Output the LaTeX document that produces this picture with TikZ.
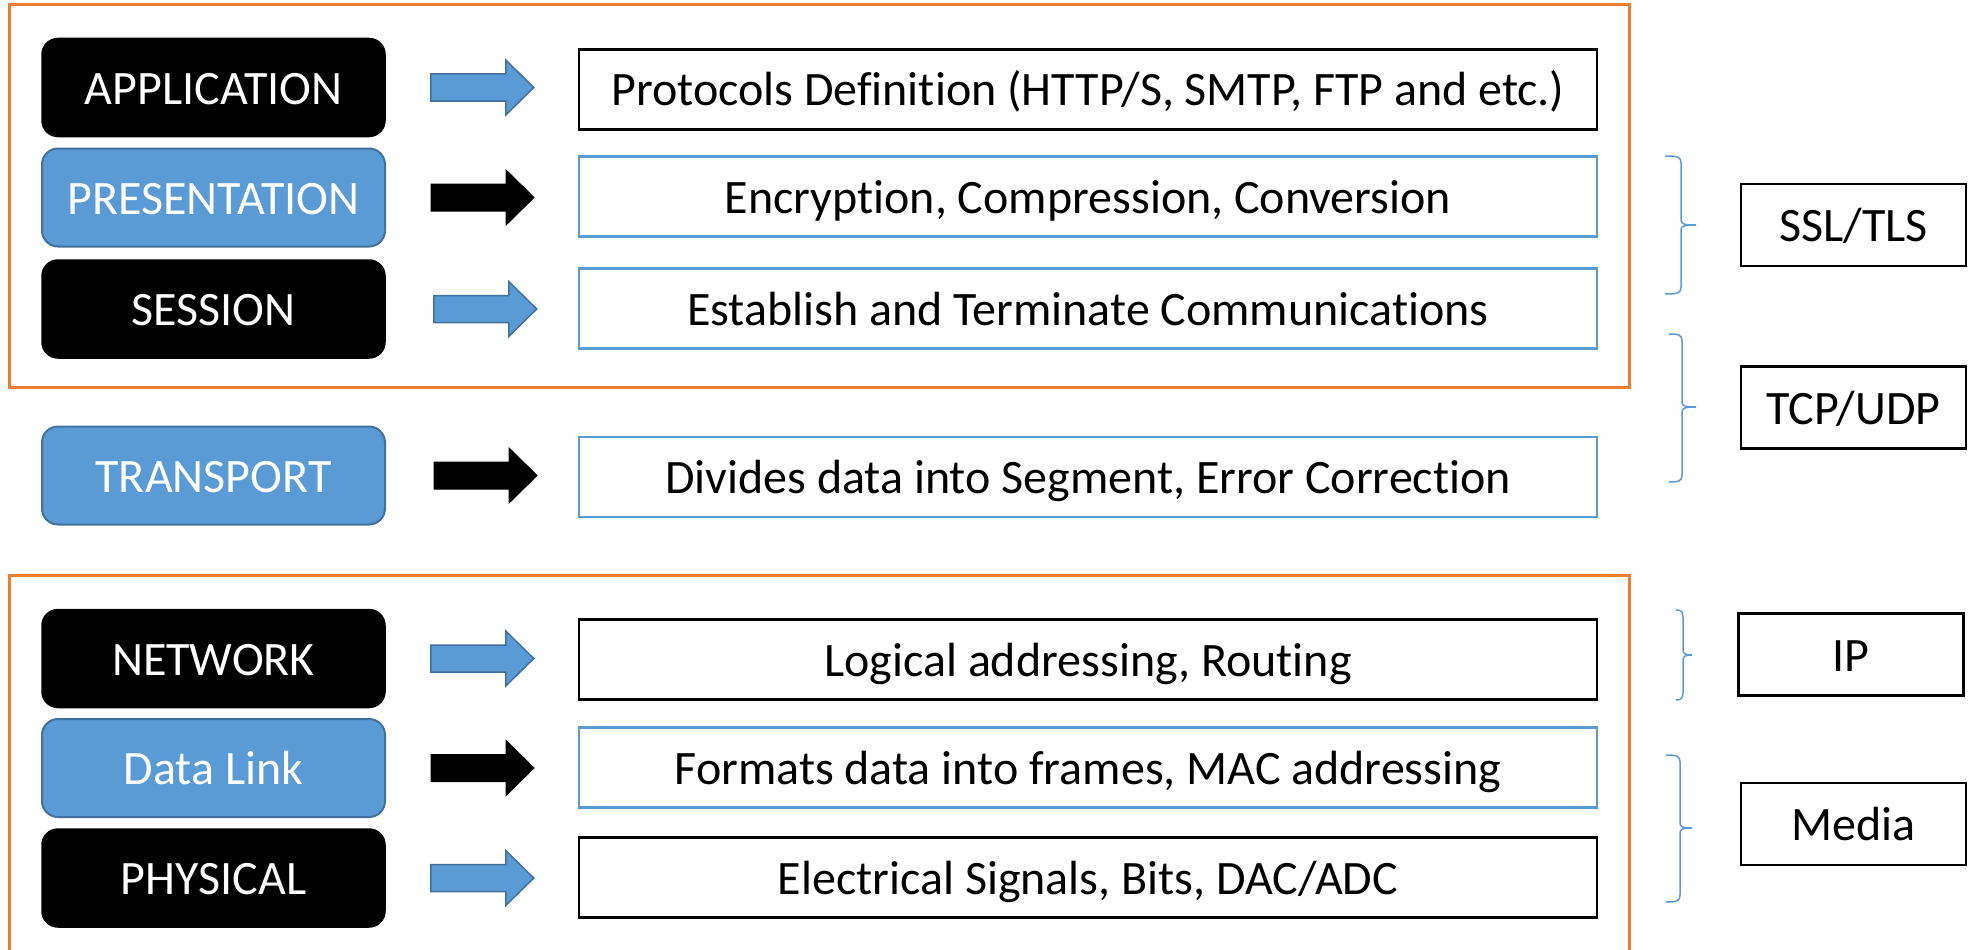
\documentclass[tikz,border=0pt]{standalone}
\usepackage{fontspec}
\setmainfont{Carlito}[Ligatures=NoCommon]
\usetikzlibrary{calc}

\definecolor{offblue}{HTML}{5B9BD5}
\definecolor{offblueedge}{HTML}{41719C}
\definecolor{offorange}{HTML}{ED7D31}

\tikzset{
  capcentred/.style={text height=40pt, text depth=7pt},
  layerdark/.style={rectangle, rounded corners=16pt, fill=black, draw=black, line width=1.5pt,
    minimum width=343pt, minimum height=98pt, text=white, font=\fontsize{48}{52}\selectfont, capcentred},
  layerblue/.style={rectangle, rounded corners=16pt, fill=offblue, draw=offblueedge, line width=2pt,
    minimum width=343pt, minimum height=98pt, text=white, font=\fontsize{48}{52}\selectfont, capcentred},
  descdark/.style={rectangle, draw=black, line width=2.5pt, minimum width=1018pt, minimum height=80pt,
    font=\fontsize{48}{52}\selectfont, capcentred},
  descblue/.style={rectangle, draw=offblue, line width=2.5pt, minimum width=1018pt, minimum height=80pt,
    font=\fontsize{48}{52}\selectfont, capcentred},
  protobox/.style={rectangle, draw=black, line width=2.5pt, minimum width=225pt, minimum height=82pt,
    font=\fontsize{48}{52}\selectfont, capcentred},
  frame/.style={draw=offorange, line width=3pt},
  groupbrace/.style={draw=offblue, line width=1.5pt},
  arrowblue/.style={fill=offblue, draw=offblueedge, line width=1.5pt},
  arrowdark/.style={fill=black, draw=black, line width=1pt},
  pics/blockarrow/.style={code={
    \path[pic actions] (0,-13.5) -- (75,-13.5) -- (75,-27.5) -- (103,0)
      -- (75,27.5) -- (75,13.5) -- (0,13.5) -- cycle;}}
}

% right-pointing curly bracket: end x, spine x, tip x, top y, tip y, bottom y
\newcommand\groupbracket[6]{%
  \draw[groupbrace] (#1,#4) .. controls (#2-3,#4) and (#2,#4+1) .. (#2,#4+7)
    -- (#2,#5-5) .. controls (#2,#5-1) and (#2+3,#5) .. (#3,#5)
    (#3,#5) .. controls (#2+3,#5) and (#2,#5+1) .. (#2,#5+5)
    -- (#2,#6-7) .. controls (#2,#6-1) and (#2-3,#6) .. (#1,#6);}

\begin{document}
\begin{tikzpicture}[x=1pt, y=-1pt]
  \useasboundingbox (0,0) rectangle (1981,950);

  % orange group frames
  \draw[frame] (9,5) rectangle (1629,387);
  \draw[frame] (9,952) -- (9,575) -- (1629,575) -- (1629,952);

  % OSI layers
  \node[layerdark] (app)  at (213.5,87.5)  {APPLICATION};
  \node[layerblue] (pres) at (213.5,197.5) {PRESENTATION};
  \node[layerdark] (sess) at (213.5,309)   {SESSION};
  \node[layerblue] (trans) at (213.5,475.5) {TRANSPORT};
  \node[layerdark] (net)  at (213.5,658.5) {NETWORK};
  \node[layerblue] (dl)   at (213.5,768)   {Data Link};
  \node[layerdark] (phy)  at (213.5,878)   {PHYSICAL};

  % layer descriptions
  \node[descdark] (dapp)  at (1088,89.5)  {Protocols Definition (HTTP/S, SMTP, FTP and etc.)};
  \node[descblue] (dpres) at (1088,196.5) {Encryption, Compression, Conversion};
  \node[descblue] (dsess) at (1088,308.5) {Establish and Terminate Communications};
  \node[descblue] (dtrans) at (1088,477)  {Divides data into Segment, Error Correction};
  \node[descdark] (dnet)  at (1088,659.5) {Logical addressing, Routing};
  \node[descblue] (ddl)   at (1088,767.5) {Formats data into frames, MAC addressing};
  \node[descdark] (dphy)  at (1088,877.5) {Electrical Signals, Bits, DAC/ADC};

  % block arrows from layer to description
  \pic[arrowblue] at ($(app.east)+(45,0)$)   {blockarrow};
  \pic[arrowdark] at ($(pres.east)+(45,0)$)  {blockarrow};
  \pic[arrowblue] at ($(sess.east)+(48,0)$)  {blockarrow};
  \pic[arrowdark] at ($(trans.east)+(48,0)$) {blockarrow};
  \pic[arrowblue] at ($(net.east)+(45,0)$)   {blockarrow};
  \pic[arrowdark] at ($(dl.east)+(45,0)$)    {blockarrow};
  \pic[arrowblue] at ($(phy.east)+(45,0)$)   {blockarrow};

  % protocol families
  \node[protobox] (ssl)   at (1853.5,225)   {SSL/TLS};
  \node[protobox] (tcp)   at (1853.5,407.5) {TCP/UDP};
  \node[protobox] (ip)    at (1851,654.5)   {IP};
  \node[protobox] (media) at (1853.5,824)   {Media};

  % brackets grouping the layers
  \groupbracket{1665}{1681}{1696}{156}{225}{294}
  \groupbracket{1669}{1682}{1696}{334}{407}{482}
  \groupbracket{1676}{1683}{1692}{610}{655}{700}
  \groupbracket{1666}{1680}{1692}{755}{828}{902}
\end{tikzpicture}
\end{document}
